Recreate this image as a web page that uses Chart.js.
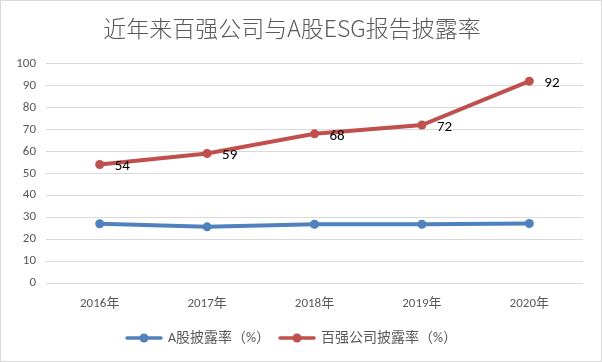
<!DOCTYPE html>
<html><head><meta charset="utf-8">
<script src="https://cdn.jsdelivr.net/npm/chart.js@4.4.1/dist/chart.umd.min.js"></script>
<style>
html,body{margin:0;padding:0;background:#fff;}
#wrap{position:absolute;left:0;top:0;width:600px;height:360px;border:1px solid #d9d9d9;}
</style></head><body>
<div id="wrap"><canvas id="c" width="600" height="360"></canvas></div>
<script>
const titleText = '近年来百强公司与A股ESG报告披露率';
const categories = ['2016年','2017年','2018年','2019年','2020年'];
const seriesNames = ['A股披露率（%）','百强公司披露率（%）'];
const aShareRate = [27, 25.6, 26.8, 26.8, 27.1];
const top100Rate = [54, 59, 68, 72, 92];
const yTicksMin = 0, yTicksMax = 100, yTicksStep = 10;

const colors = ['#4f81bd', '#c0504d'];
const FONT = "Calibri, Carlito, Lato, 'Noto Sans CJK SC', sans-serif";

function markerCanvas(color){
  const cv = document.createElement('canvas');
  cv.width = 38; cv.height = 12;
  const g = cv.getContext('2d');
  g.strokeStyle = color; g.lineWidth = 3.5; g.lineCap = 'round';
  g.beginPath(); g.moveTo(2,6); g.lineTo(36,6); g.stroke();
  g.fillStyle = color; g.beginPath(); g.arc(19,6,4.5,0,Math.PI*2); g.fill();
  return cv;
}

const labelPlugin = {
  id: 'valLabels',
  afterDatasetsDraw(chart){
    const ctx = chart.ctx;
    const meta = chart.getDatasetMeta(1);
    ctx.save();
    ctx.font = "15px " + FONT;
    ctx.fillStyle = '#000';
    ctx.textAlign = 'left';
    ctx.textBaseline = 'middle';
    meta.data.forEach((pt, i) => {
      ctx.fillText(String(top100Rate[i]), pt.x + 15, pt.y + 2);
    });
    ctx.restore();
  }
};

new Chart(document.getElementById('c'), {
  type: 'line',
  data: {
    labels: categories,
    datasets: [
      {label: seriesNames[0], data: aShareRate, borderColor: colors[0], backgroundColor: colors[0],
       borderWidth: 4, pointRadius: 4.5, pointHoverRadius: 4.5, pointBackgroundColor: colors[0], pointBorderWidth: 0, tension: 0},
      {label: seriesNames[1], data: top100Rate, borderColor: colors[1], backgroundColor: colors[1],
       borderWidth: 4, pointRadius: 4.5, pointHoverRadius: 4.5, pointBackgroundColor: colors[1], pointBorderWidth: 0, tension: 0}
    ]
  },
  options: {
    responsive: false,
    animation: false,
    devicePixelRatio: 1,
    layout: {padding: {left: 0, right: 18, top: 0, bottom: 6}},
    plugins: {
      tooltip: {enabled: false},
      title: {display: true, text: titleText, color: '#595959',
        font: {family: "'Noto Sans CJK SC', sans-serif", size: 23, weight: '300', lineHeight: 1.2},
        padding: {top: 13, bottom: 22}},
      legend: {position: 'bottom',
        labels: {usePointStyle: true, pointStyleWidth: 34, color: '#595959', padding: 10,
          font: {family: FONT, size: 14},
          generateLabels(chart){
            return chart.data.datasets.map((d, i) => ({
              text: d.label, pointStyle: markerCanvas(colors[i]), fillStyle: colors[i],
              strokeStyle: colors[i], lineWidth: 0, hidden: false, datasetIndex: i, fontColor: '#595959'
            }));
          }}}
    },
    scales: {
      x: {offset: true,
        grid: {display: false, drawTicks: false}, border: {display: false},
        ticks: {color: '#595959', font: {family: FONT, size: 13}, padding: 13, maxRotation: 0},
        afterFit(s){ s.height = 38; }
      },
      y: {min: yTicksMin, max: yTicksMax,
        grid: {color: '#d9d9d9', lineWidth: 1, drawTicks: false}, border: {display: false},
        ticks: {stepSize: yTicksStep, color: '#595959', font: {family: FONT, size: 13}, padding: 10},
        afterFit(s){ s.width = 45; }
      }
    }
  },
  plugins: [labelPlugin]
});
</script>
</body></html>
